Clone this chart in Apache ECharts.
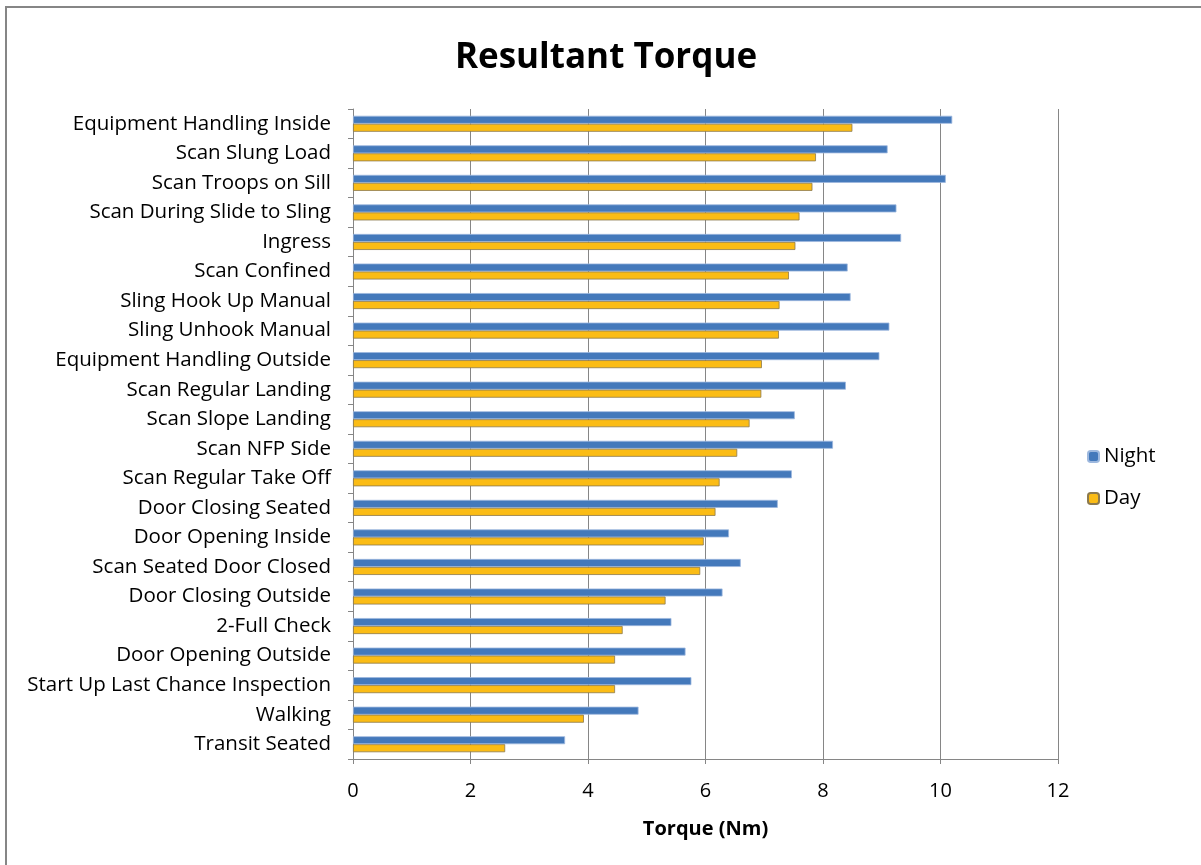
<!DOCTYPE html>
<html>
<head>
<meta charset="utf-8">
<script src="https://cdn.jsdelivr.net/npm/echarts@6/dist/echarts.min.js"></script>
<style>html,body{margin:0;padding:0;background:#fff}#c{width:1201px;height:865px}</style>
</head>
<body>
<div id="c"></div>
<script>
const categories = ["Equipment Handling Inside","Scan Slung Load","Scan Troops on Sill","Scan During Slide to Sling","Ingress","Scan Confined","Sling Hook Up Manual","Sling Unhook Manual","Equipment Handling Outside","Scan Regular Landing","Scan Slope Landing","Scan NFP Side","Scan Regular Take Off","Door Closing Seated","Door Opening Inside","Scan Seated Door Closed","Door Closing Outside","2-Full Check","Door Opening Outside","Start Up Last Chance Inspection","Walking","Transit Seated"];
const night = [10.20,9.10,10.09,9.25,9.33,8.42,8.47,9.13,8.96,8.39,7.52,8.17,7.47,7.23,6.40,6.60,6.29,5.42,5.66,5.76,4.86,3.61];
const day = [8.50,7.88,7.82,7.60,7.53,7.42,7.26,7.25,6.96,6.95,6.75,6.54,6.24,6.17,5.97,5.91,5.32,4.59,4.46,4.46,3.93,2.59];
const xTicks = [0,2,4,6,8,10,12];

const font = '"Open Sans", Lato, sans-serif';
const chart = echarts.init(document.getElementById('c'));
chart.setOption({
  animation:false,
  textStyle:{fontFamily:font},
  title:{text:'Resultant Torque',left:601,top:36,textAlign:'center',
    textStyle:{fontFamily:font,fontSize:35,fontWeight:'bold',color:'#000'}},
  graphic:[{type:'rect',shape:{x:6,y:7,width:1300,height:1000},
    style:{fill:'none',stroke:'#868686',lineWidth:2},silent:true}],
  legend:{orient:'vertical',left:1082,top:441,itemWidth:11,itemHeight:11,itemGap:21,
    data:['Night','Day'],
    textStyle:{fontFamily:font,fontSize:20.5,color:'#000'}},
  grid:{left:353,right:143,top:109,bottom:106,containLabel:false},
  xAxis:{type:'value',min:0,max:12,interval:2,
    name:'Torque (Nm)',nameLocation:'middle',nameGap:60,
    nameTextStyle:{fontFamily:font,fontSize:20,fontWeight:'bold',color:'#000'},
    axisLine:{show:true,lineStyle:{color:'#868686',width:1}},
    axisTick:{show:true,length:5,lineStyle:{color:'#868686'}},
    axisLabel:{fontFamily:font,fontSize:20,color:'#000',margin:22,
      formatter:v=>xTicks.includes(v)?String(v):''},
    splitLine:{show:true,lineStyle:{color:'#868686',width:1}}},
  yAxis:{type:'category',data:categories,inverse:true,
    axisLine:{show:true,lineStyle:{color:'#868686'}},
    axisTick:{show:true,length:5,lineStyle:{color:'#868686'}},
    axisLabel:{fontFamily:font,fontSize:20.5,color:'#000',margin:22}},
  series:[
    {name:'Night',type:'bar',data:night,barWidth:8,barGap:'0%',
      itemStyle:{color:'#4479BB',borderColor:'#9DB8DE',borderWidth:0.8}},
    {name:'Day',type:'bar',data:day,barWidth:8,barGap:'0%',
      itemStyle:{color:'#FBBC15',borderColor:'#8C7A4E',borderWidth:0.8}}
  ]
});
</script>
</body>
</html>
